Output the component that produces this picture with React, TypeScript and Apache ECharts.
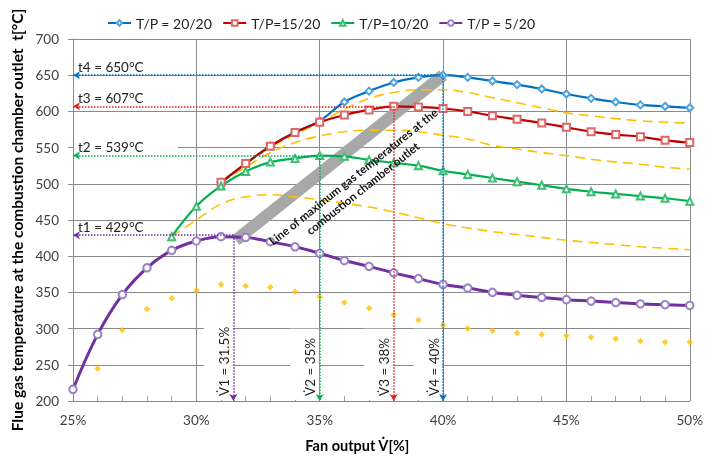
import React, { useEffect, useRef } from "react";
import * as echarts from "echarts";

// ---------- data ----------
const fanOutput = [25, 26, 27, 28, 29, 30, 31, 32, 33, 34, 35, 36, 37, 38, 39, 40, 41, 42, 43, 44, 45, 46, 47, 48, 49, 50];

const tp2020Start = 31;
const tp2020 = [502, 528, 552, 571, 587, 613, 628, 640, 647, 650, 647, 642, 637, 631, 624, 618, 613, 609, 607, 605];
const tp1520Start = 31;
const tp1520 = [502, 528, 552, 571, 585, 595, 602, 607, 606, 604, 600, 594, 589, 584, 578, 572, 568, 565, 560, 557];
const tp1020Start = 29;
const tp1020 = [427, 469, 497, 517, 530, 535, 539, 538, 533, 529, 525, 518, 513, 508, 503, 498, 493, 489, 486, 483, 480, 476];
const tp520Start = 25;
const tp520 = [216, 292, 347, 384, 408, 421, 427, 426, 420, 413, 404, 394, 386, 377, 369, 361, 356, 350, 346, 343, 340, 338, 336, 334, 333, 332];

const dashUpperStart = 31;
const dashUpper = [502, 528, 550, 568, 585, 603, 618, 626, 630, 630, 626, 619, 612, 605, 598, 594, 590, 587, 585, 584];
const dashMiddleStart = 31;
const dashMiddle = [502, 523, 543, 557, 566, 572, 574, 574, 572, 567, 562, 553, 548, 543, 539, 534, 530, 527, 523, 520];
const dashLowerStart = 29;
const dashLower = [427, 450, 472, 482, 485, 482, 478, 473, 468, 461, 453, 445, 439, 434, 430, 426, 422, 419, 416, 413, 411, 409];
const goldDotsStart = 26;
const goldDots = [245, 298, 327, 342, 353, 361, 359, 357, 351, 344, 336, 328, 319, 312, 305, 300, 297, 294, 292, 290, 288, 286, 283, 281, 281];

// line of maximum gas temperatures
const maxLineFan = [31.6, 40];
const maxLineTemp = [422, 650];

// annotated peaks (t1..t4 / V1..V4)
const peakIndex = [1, 2, 3, 4];
const peakFan = [31.5, 35, 38, 40];
const peakTemp = [429, 539, 607, 650];

const seriesNames = ["T/P = 20/20", "T/P=15/20", "T/P=10/20", "T/P = 5/20"];
const yTicks = { min: 200, max: 700, interval: 50 };
const xTicks = { min: 25, max: 50, interval: 5 };

// ---------- styles ----------
const FONT = "Lato, 'Noto Sans', sans-serif";
const BLUE = "#0070c0";
const RED = "#c00000";
const GREEN = "#00b050";
const PURPLE = "#7030a0";
const GOLD = "#ffc000";
const GRID = "#8a8a8a";
const peakColors = [PURPLE, GREEN, "#e02020", BLUE];
const peakSeries = [3, 2, 1, 0];

const pairs = (start: number, vals: number[]) => {
  const i0 = fanOutput.indexOf(start);
  return vals.map((v, i) => [fanOutput[i0 + i], v]);
};

export default function App() {
  const ref = useRef<HTMLDivElement>(null);

  useEffect(() => {
    if (!ref.current) return;
    const chart = echarts.init(ref.current, undefined, { renderer: "svg" });

    const markLines: any[][] = [[], [], [], []];
    peakFan.forEach((f, i) => {
      const s = peakSeries[i];
      const ls = { color: peakColors[i], type: "dotted", width: 1.5 };
      markLines[s].push([
        { coord: [xTicks.min, peakTemp[i]], symbol: "arrow", symbolSize: [6, 7], lineStyle: ls },
        { coord: [f, peakTemp[i]], symbol: "none" },
      ]);
      markLines[s].push([
        { coord: [f, peakTemp[i]], symbol: "none", lineStyle: ls },
        { coord: [f, yTicks.min], symbol: "arrow", symbolSize: [6, 7] },
      ]);
    });
    const mk = (i: number) => ({
      silent: true,
      symbol: ["none", "none"],
      label: { show: false },
      emphasis: { disabled: true },
      data: markLines[i],
    });

    const dashStyle = { color: GOLD, width: 1.6, type: [10, 6] as any };

    const option: any = {
      animation: false,
      textStyle: { fontFamily: FONT },
      grid: { left: 73, right: 10, top: 39, bottom: 54 },
      legend: {
        data: seriesNames,
        left: 102,
        top: 11,
        itemWidth: 23,
        itemHeight: 7,
        itemGap: 10,
        textStyle: { fontFamily: FONT, fontSize: 14, color: "#222", width: 114 },
      },
      xAxis: {
        type: "value",
        min: xTicks.min,
        max: xTicks.max,
        interval: xTicks.interval,
        name: "Fan output V\u0307[%]",
        nameLocation: "middle",
        nameGap: 37,
        nameTextStyle: { fontFamily: FONT, fontWeight: "bold", fontSize: 14.5, color: "#000", padding: [0, 48, 0, 0] },
        axisLine: { lineStyle: { color: GRID } },
        axisTick: { show: true, inside: true, length: 5, lineStyle: { color: GRID } },
        minorTick: { show: true, splitNumber: 5, length: 5, lineStyle: { color: "#a0a0a0" } },
        splitLine: { show: true, lineStyle: { color: GRID, width: 1 } },
        axisLabel: { formatter: "{value}%", fontFamily: FONT, fontSize: 13.5, color: "#404040", margin: 12 },
      },
      yAxis: {
        type: "value",
        min: yTicks.min,
        max: yTicks.max,
        interval: yTicks.interval,
        name: "Flue gas temperature at the combustion chamber outlet  t[°C]",
        nameLocation: "middle",
        nameGap: 46,
        nameTextStyle: { fontFamily: FONT, fontWeight: "bold", fontSize: 15.5, color: "#000" },
        axisLine: { show: true, lineStyle: { color: GRID } },
        axisTick: { show: true, length: 5, lineStyle: { color: GRID } },
        splitLine: { show: true, lineStyle: { color: GRID, width: 1 } },
        axisLabel: { fontFamily: FONT, fontSize: 13.5, color: "#404040", margin: 14 },
      },
      series: [
        {
          type: "line",
          name: "max line",
          data: maxLineFan.map((f, i) => [f, maxLineTemp[i]]),
          symbol: "none",
          silent: true,
          z: 1,
          lineStyle: { color: "#a8a8a8", width: 12, cap: "butt" },
        },
        { type: "line", name: "d1", data: pairs(dashUpperStart, dashUpper), smooth: 0.4, symbol: "none", silent: true, lineStyle: dashStyle, z: 2 },
        { type: "line", name: "d2", data: pairs(dashMiddleStart, dashMiddle), smooth: 0.4, symbol: "none", silent: true, lineStyle: dashStyle, z: 2 },
        { type: "line", name: "d3", data: pairs(dashLowerStart, dashLower), smooth: 0.4, symbol: "none", silent: true, lineStyle: dashStyle, z: 2 },
        {
          type: "scatter",
          name: "dots",
          data: pairs(goldDotsStart, goldDots),
          symbol: "diamond",
          symbolSize: 6.5,
          silent: true,
          itemStyle: { color: GOLD },
          z: 2,
        },
        {
          type: "line",
          name: seriesNames[0],
          data: pairs(tp2020Start, tp2020),
          smooth: 0.4,
          symbol: "emptyDiamond",
          symbolSize: 7,
          itemStyle: { color: "#4aa3df", borderWidth: 1 },
          lineStyle: { color: BLUE, width: 2.2 },
          z: 3,
          markLine: mk(0),
        },
        {
          type: "line",
          name: seriesNames[1],
          data: pairs(tp1520Start, tp1520),
          smooth: 0.4,
          symbol: "emptyRect",
          symbolSize: 7,
          itemStyle: { color: "#e06666", borderWidth: 1 },
          lineStyle: { color: RED, width: 2.2 },
          z: 4,
          markLine: mk(1),
        },
        {
          type: "line",
          name: seriesNames[2],
          data: pairs(tp1020Start, tp1020),
          smooth: 0.4,
          symbol: "emptyTriangle",
          symbolSize: 7,
          itemStyle: { color: "#3fbf74", borderWidth: 1 },
          lineStyle: { color: GREEN, width: 2.2 },
          z: 4,
          markLine: mk(2),
        },
        {
          type: "line",
          name: seriesNames[3],
          data: pairs(tp520Start, tp520),
          smooth: 0.4,
          symbol: "emptyCircle",
          symbolSize: 7.5,
          itemStyle: { color: "#9a80c4", borderWidth: 1 },
          lineStyle: { color: PURPLE, width: 3 },
          z: 4,
          markLine: mk(3),
        },
      ],
    };
    chart.setOption(option);

    const toPx = (x: number, y: number) => chart.convertToPixel({ gridIndex: 0 }, [x, y]) as number[];
    const graphics: any[] = [];
    peakFan.forEach((f, i) => {
      const n = peakIndex[i];
      const [ax, py] = toPx(xTicks.min, peakTemp[i]);
      graphics.push({
        type: "text",
        x: ax + 1,
        y: py - 0.5,
        z: 1,
        silent: true,
        style: {
          text: `t${n} = ${peakTemp[i]}°C`,
          font: `13.5px ${FONT}`,
          fill: "#222",
          align: "left",
          verticalAlign: "bottom",
          padding: n === 2 ? [1, 34, 1, 4] : [1, 2, 1, 4],
          backgroundColor: n === 2 ? "#fff" : undefined,
        },
      });
      const [lx, by] = toPx(f, yTicks.min);
      graphics.push({
        type: "text",
        x: lx - 0.5,
        y: by - 1,
        rotation: Math.PI / 2,
        z: 1,
        silent: true,
        style: {
          text: `V\u0307${n} = ${f}%`,
          font: `13.5px ${FONT}`,
          fill: "#222",
          align: "left",
          verticalAlign: "bottom",
          padding: [13, 9, 2, 4],
          backgroundColor: "#fff",
        },
      });
    });
    const [cx, cy] = toPx(36.55, 502);
    graphics.push({
      type: "text",
      x: cx,
      y: cy,
      rotation: (38.5 * Math.PI) / 180,
      z: 5,
      silent: true,
      style: {
        text: "Line of maximum gas temperatures at the\ncombustion chamber outlet",
        font: `bold 11.5px ${FONT}`,
        fill: "#111",
        align: "center",
        verticalAlign: "middle",
        lineHeight: 15,
      },
    });
    chart.setOption({ graphic: graphics });

    return () => chart.dispose();
  }, []);

  return <div ref={ref} style={{ position: "fixed", left: 0, top: 0, width: 706, height: 458 }} />;
}
